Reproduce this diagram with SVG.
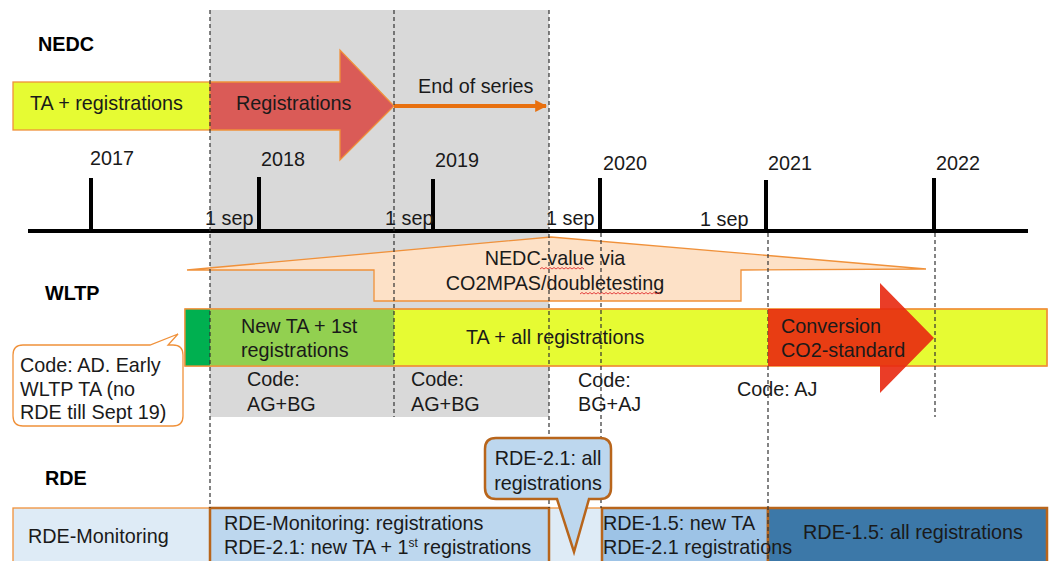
<svg xmlns="http://www.w3.org/2000/svg" width="1052" height="561" viewBox="0 0 1052 561">
<style>
text{font-family:"Liberation Sans",Arial,sans-serif;font-size:19.8px;fill:#1a1a1a}
.b{font-weight:bold;fill:#000}
.dash{stroke:#333;stroke-width:1.2;stroke-dasharray:4 3;fill:none}
.tick{stroke:#000;stroke-width:4}
.or{stroke:#F0913A;stroke-width:1.3}
.br{stroke:#B8651B;stroke-width:2.5}
.sq{stroke:#E03030;stroke-width:0.9;fill:none}
</style>
<defs>
<marker id="ah" viewBox="0 0 10 10" refX="9" refY="5" markerWidth="3" markerHeight="3" orient="auto" markerUnits="strokeWidth">
<path d="M0,0 L10,5 L0,10 z" fill="#E8700F"/>
</marker>
</defs>
<rect width="1052" height="561" fill="#fff"/>
<rect id="period" x="210" y="10" width="339" height="407" fill="#D9D9D9"/>

<g id="axis">
<line x1="28" y1="231" x2="1028" y2="231" stroke="#000" stroke-width="4"/>
<line class="tick" x1="91" y1="178" x2="91" y2="231"/>
<line class="tick" x1="259" y1="177" x2="259" y2="231"/>
<line class="tick" x1="433" y1="179" x2="433" y2="231"/>
<line class="tick" x1="600" y1="178" x2="600" y2="231"/>
<line class="tick" x1="766" y1="180" x2="766" y2="231"/>
<line class="tick" x1="934" y1="178" x2="934" y2="231"/>
<text x="90" y="165">2017</text>
<text x="261" y="166">2018</text>
<text x="435" y="167">2019</text>
<text x="603" y="170">2020</text>
<text x="768" y="170">2021</text>
<text x="936" y="170">2022</text>
<text x="205" y="225">1 sep</text>
<text x="385" y="225">1 sep</text>
<text x="546" y="225">1 sep</text>
<text x="700" y="226">1 sep</text>
</g>

<g id="nedc">
<text class="b" x="38" y="51">NEDC</text>
<rect x="13" y="82" width="197" height="48" fill="#E6FB33" class="or"/>
<text x="30" y="110">TA + registrations</text>
<path d="M210,82 L340,82 L340,50 L394,106 L340,160 L340,130 L210,130 Z" fill="#DA5B57" class="or"/>
<text x="236" y="110" fill="#1a1a1a">Registrations</text>
</g>

<g id="connectors">
<line x1="394" y1="106" x2="546" y2="106" stroke="#E8700F" stroke-width="4" marker-end="url(#ah)"/>
</g>
<text x="418" y="93">End of series</text>

<g id="nedc-value">
<path d="M187,270 L551,237 L926,269 L741,270 L741,301 L374,301 L374,270 Z" fill="#FDE1C7" class="or"/>
<text x="555" y="265" text-anchor="middle">NEDC-value via</text>
<text x="555" y="290" text-anchor="middle">CO2MPAS/doubletesting</text>
<path class="sq" d="M540,269 l2,-1.5 l2,1.5 l2,-1.5 l2,1.5 l2,-1.5 l2,1.5 l2,-1.5 l2,1.5 l2,-1.5 l2,1.5 l2,-1.5 l2,1.5 l2,-1.5 l2,1.5 l2,-1.5 l2,1.5 l2,-1.5 l2,1.5 l2,-1.5 l2,1.5 l2,-1.5 l2,1.5"/>
<path class="sq" d="M580,294 l2,-1.5 l2,1.5 l2,-1.5 l2,1.5 l2,-1.5 l2,1.5 l2,-1.5 l2,1.5 l2,-1.5 l2,1.5 l2,-1.5 l2,1.5 l2,-1.5 l2,1.5 l2,-1.5 l2,1.5 l2,-1.5 l2,1.5 l2,-1.5 l2,1.5 l2,-1.5 l2,1.5 l2,-1.5 l2,1.5 l2,-1.5 l2,1.5 l2,-1.5 l2,1.5 l2,-1.5 l2,1.5 l2,-1.5 l2,1.5 l2,-1.5 l2,1.5 l2,-1.5 l2,1.5 l2,-1.5 l2,1.5 l2,-1.5 l2,1.5"/>
</g>

<g id="wltp">
<text class="b" x="45" y="300">WLTP</text>
<rect x="185" y="309" width="862" height="57" fill="#E6FB33" class="or"/>
<rect x="185" y="309" width="25" height="57" fill="#00B050"/>
<rect x="210" y="309" width="184" height="57" fill="#92D050"/>
<rect x="185" y="309" width="862" height="57" fill="none" class="or"/>
<text x="241" y="333">New TA + 1st</text>
<text x="241" y="357">registrations</text>
<text x="466" y="344">TA + all registrations</text>
<text x="247" y="386">Code:</text>
<text x="247" y="411">AG+BG</text>
<text x="411" y="386">Code:</text>
<text x="411" y="411">AG+BG</text>
<text x="578" y="387">Code:</text>
<text x="578" y="411">BG+AJ</text>
<text x="737" y="396">Code: AJ</text>
</g>

<g id="code-ad">
<path d="M25,345 L150,345 L178,334 L168,345 L173,345 Q183,345 183,355 L183,416 Q183,426 173,426 L23,426 Q13,426 13,416 L13,355 Q13,345 23,345 Z" fill="#fff" class="or"/>
<text x="20" y="372">Code: AD. Early</text>
<text x="20" y="396">WLTP TA (no</text>
<text x="20" y="419">RDE till Sept 19)</text>
</g>

<g id="rde">
<text class="b" x="45" y="485">RDE</text>
<rect x="13" y="508" width="1034" height="60" fill="#DEEBF6" class="or"/>
<text x="28" y="543">RDE-Monitoring</text>
<rect x="210" y="508" width="339" height="60" fill="#BDD7EE" class="br"/>
<rect x="602" y="508" width="166" height="60" fill="#9DC3E6" class="br"/>
<rect x="768" y="508" width="279" height="60" fill="#3C78A8" class="br"/>
<text x="224" y="530">RDE-Monitoring: registrations</text>
<text x="224" y="554">RDE-2.1: new TA + 1<tspan font-size="12" dy="-7">st</tspan><tspan dy="7"> registrations</tspan></text>
<text x="603" y="530">RDE-1.5: new TA</text>
<text x="603" y="554">RDE-2.1 registrations</text>
<text x="913" y="539" text-anchor="middle">RDE-1.5: all registrations</text>
</g>

<g id="dashes">
<line class="dash" x1="210" y1="10" x2="210" y2="508"/>
<line class="dash" x1="394" y1="10" x2="394" y2="417"/>
<line class="dash" x1="549" y1="10" x2="549" y2="508"/>
<line class="dash" x1="601" y1="233" x2="601" y2="508"/>
<line class="dash" x1="768" y1="233" x2="768" y2="561"/>
<line class="dash" x1="935" y1="233" x2="935" y2="417"/>
</g>

<g id="conversion">
<path d="M768,309 L880,309 L880,283 L934,338 L880,393 L880,366 L768,366 Z" fill="#E8280F" fill-opacity="0.9"/>
<text x="781" y="333">Conversion</text>
<text x="781" y="357">CO2-standard</text>
</g>

<g id="rde21-all">
<path d="M496,438 L600,438 Q611,438 611,449 L611,488 Q611,499 600,499 L589,499 L574,552 L557,499 L496,499 Q485,499 485,488 L485,449 Q485,438 496,438 Z" fill="#BDD7EE" class="br"/>
<text x="548" y="465" text-anchor="middle">RDE-2.1: all</text>
<text x="548" y="490" text-anchor="middle">registrations</text>
</g>
</svg>
